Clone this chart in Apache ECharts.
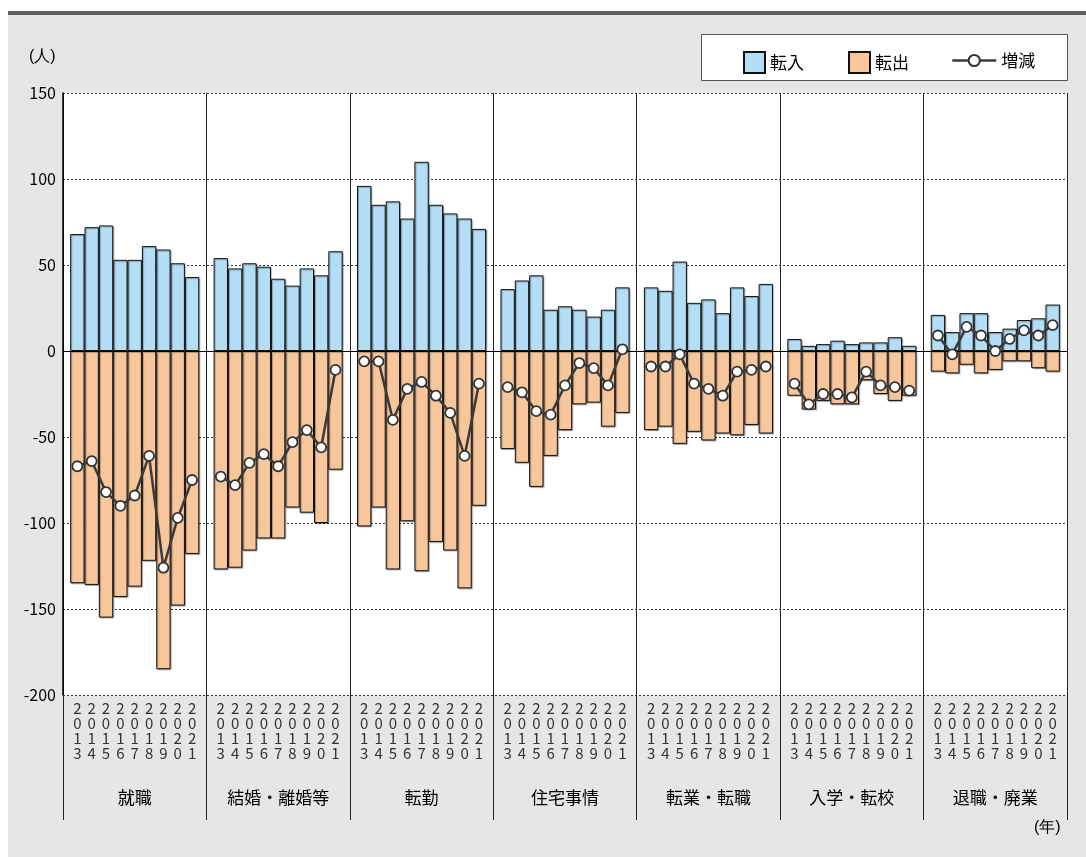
<!DOCTYPE html>
<html>
<head>
<meta charset="utf-8">
<script src="https://cdn.jsdelivr.net/npm/echarts@6/dist/echarts.min.js"></script>
<style>
  html, body { margin: 0; padding: 0; background: #fff; }
  #chart { width: 1086px; height: 857px; }
</style>
</head>
<body>
<div id="chart"></div>
<script>
// Years shown under every reason group
const years = ['2013', '2014', '2015', '2016', '2017', '2018', '2019', '2020', '2021'];
// Reasons for moving
const groups = ['就職', '結婚・離婚等', '転勤', '住宅事情', '転業・転職', '入学・転校', '退職・廃業'];
// Y-axis ticks
const yTicks = { min: -200, max: 150, step: 50 };

// 転入 (moving in), 転出 (moving out, negative) and 増減 (net) per reason, 2013-2021
const inJob = [68, 72, 73, 53, 53, 61, 59, 51, 43];
const outJob = [-135, -136, -155, -143, -137, -122, -185, -148, -118];
const netJob = [-67, -64, -82, -90, -84, -61, -126, -97, -75];

const inMarriage = [54, 48, 51, 49, 42, 38, 48, 44, 58];
const outMarriage = [-127, -126, -116, -109, -109, -91, -94, -100, -69];
const netMarriage = [-73, -78, -65, -60, -67, -53, -46, -56, -11];

const inTransfer = [96, 85, 87, 77, 110, 85, 80, 77, 71];
const outTransfer = [-102, -91, -127, -99, -128, -111, -116, -138, -90];
const netTransfer = [-6, -6, -40, -22, -18, -26, -36, -61, -19];

const inHousing = [36, 41, 44, 24, 26, 24, 20, 24, 37];
const outHousing = [-57, -65, -79, -61, -46, -31, -30, -44, -36];
const netHousing = [-21, -24, -35, -37, -20, -7, -10, -20, 1];

const inCareer = [37, 35, 52, 28, 30, 22, 37, 32, 39];
const outCareer = [-46, -44, -54, -47, -52, -48, -49, -43, -48];
const netCareer = [-9, -9, -2, -19, -22, -26, -12, -11, -9];

const inSchool = [7, 3, 4, 6, 4, 5, 5, 8, 3];
const outSchool = [-26, -34, -29, -31, -31, -17, -25, -29, -26];
const netSchool = [-19, -31, -25, -25, -27, -12, -20, -21, -23];

const inRetire = [21, 11, 22, 22, 11, 13, 18, 19, 27];
const outRetire = [-12, -13, -8, -13, -11, -6, -6, -10, -12];
const netRetire = [9, -2, 14, 9, 0, 7, 12, 9, 15];

const inAll = [inJob, inMarriage, inTransfer, inHousing, inCareer, inSchool, inRetire];
const outAll = [outJob, outMarriage, outTransfer, outHousing, outCareer, outSchool, outRetire];
const netAll = [netJob, netMarriage, netTransfer, netHousing, netCareer, netSchool, netRetire];

// Each group takes 10 slots on the x scale: 9 years plus half a slot of gap on each side
const SLOT = 10;
const xMax = groups.length * SLOT;
const pos = (g, i) => g * SLOT + 1 + i;

const inData = [], outData = [], netData = [];
groups.forEach((_, g) => {
  years.forEach((_, i) => {
    inData.push([pos(g, i), inAll[g][i]]);
    outData.push([pos(g, i), outAll[g][i]]);
    netData.push([pos(g, i), netAll[g][i]]);
  });
  // break the net line between groups
  netData.push([g * SLOT + SLOT, '-']);
});

const FONT = '"Noto Sans CJK JP", "Noto Sans", sans-serif';
const W = 1086, H = 857;
const grid = { left: 63, right: 19, top: 93, bottom: 162 };
const slotPx = (W - grid.left - grid.right) / xMax;

const chart = echarts.init(document.getElementById('chart'), null, { renderer: 'canvas' });

const barShadow = { shadowColor: 'rgba(0,0,0,0.3)', shadowOffsetX: 1, shadowOffsetY: 1, shadowBlur: 1 };

chart.setOption({
  backgroundColor: '#e6e6e6',
  animation: false,
  textStyle: { fontFamily: FONT },
  grid: Object.assign({ show: true, backgroundColor: '#fff', borderWidth: 0, containLabel: false }, grid),
  graphic: [
    { type: 'rect', left: 0, top: 0, shape: { width: W, height: 11 }, style: { fill: '#fff' }, silent: true },
    { type: 'rect', left: 0, top: 11, shape: { width: 8, height: H }, style: { fill: '#fff' }, silent: true },
    { type: 'rect', left: 8, top: 11, shape: { width: W - 8, height: 4 }, style: { fill: '#616161' }, silent: true },
    { type: 'rect', left: 701, top: 34, shape: { width: 366, height: 46 }, style: { fill: '#fff', stroke: '#555', lineWidth: 1 }, silent: true },
    { type: 'text', left: 29, top: 49, style: { text: '(人)', fontSize: 16, fill: '#000', font: '16px ' + FONT } },
    { type: 'text', left: 1034, top: 820, style: { text: '(年)', fontSize: 16, fill: '#000', font: '16px ' + FONT } }
  ],
  legend: [
    {
      data: ['転入', '転出'],
      left: 738, top: 46,
      icon: 'rect',
      itemWidth: 21, itemHeight: 21, itemGap: 44,
      textStyle: { fontSize: 17, color: '#000', fontFamily: FONT },
      selectedMode: false
    },
    {
      data: ['増減'],
      left: 946, top: 47,
      itemWidth: 44, itemHeight: 14,
      lineStyle: { width: 2.5 },
      textStyle: { fontSize: 17, color: '#000', fontFamily: FONT },
      selectedMode: false
    }
  ],
  xAxis: [
    {
      type: 'value', min: 0, max: xMax, interval: 1,
      axisLine: { show: true, lineStyle: { color: '#000', width: 1 } },
      axisTick: { show: false },
      splitLine: { show: false },
      axisLabel: {
        margin: 6, fontSize: 15, lineHeight: 15, color: '#333', fontFamily: FONT,
        showMinLabel: true, showMaxLabel: true,
        formatter: v => {
          const r = Math.round(v) % SLOT;
          return r === 0 ? '' : years[r - 1].split('').join('\n');
        }
      }
    },
    {
      type: 'category', data: groups, position: 'bottom',
      axisLine: { show: false },
      axisTick: { show: true, length: 125, lineStyle: { color: '#222', width: 1 } },
      axisLabel: { margin: 94, fontSize: 17, color: '#000', fontFamily: FONT, interval: 0 },
      splitLine: { show: true, lineStyle: { color: '#222', width: 1 } }
    }
  ],
  yAxis: {
    type: 'value', min: yTicks.min, max: yTicks.max, interval: yTicks.step,
    axisLine: { show: true, lineStyle: { color: '#000', width: 1.5 } },
    axisTick: { show: false },
    axisLabel: { fontSize: 16, color: '#000', margin: 7, fontFamily: FONT },
    splitLine: { show: true, lineStyle: { color: '#333', type: [2, 2], width: 1 } }
  },
  series: [
    {
      name: '転入', type: 'bar', xAxisIndex: 0, data: inData,
      barWidth: slotPx, barGap: '-100%',
      itemStyle: Object.assign({ color: '#b3def5', borderColor: '#111', borderWidth: 1 }, barShadow),
      markLine: {
        silent: true, symbol: 'none', label: { show: false },
        lineStyle: { color: '#000', type: 'solid', width: 1.2 },
        data: [{ yAxis: 0 }]
      }
    },
    {
      name: '転出', type: 'bar', xAxisIndex: 0, data: outData,
      barWidth: slotPx, barGap: '-100%',
      itemStyle: Object.assign({ color: '#f7c69b', borderColor: '#111', borderWidth: 1 }, barShadow)
    },
    {
      name: '増減', type: 'line', xAxisIndex: 0, data: netData,
      connectNulls: false,
      symbol: 'circle', symbolSize: 10, showAllSymbol: true,
      lineStyle: { color: '#3a3a3a', width: 2.5 },
      itemStyle: { color: '#fff', borderColor: '#333', borderWidth: 1.8 },
      z: 5
    }
  ]
});
</script>
</body>
</html>
